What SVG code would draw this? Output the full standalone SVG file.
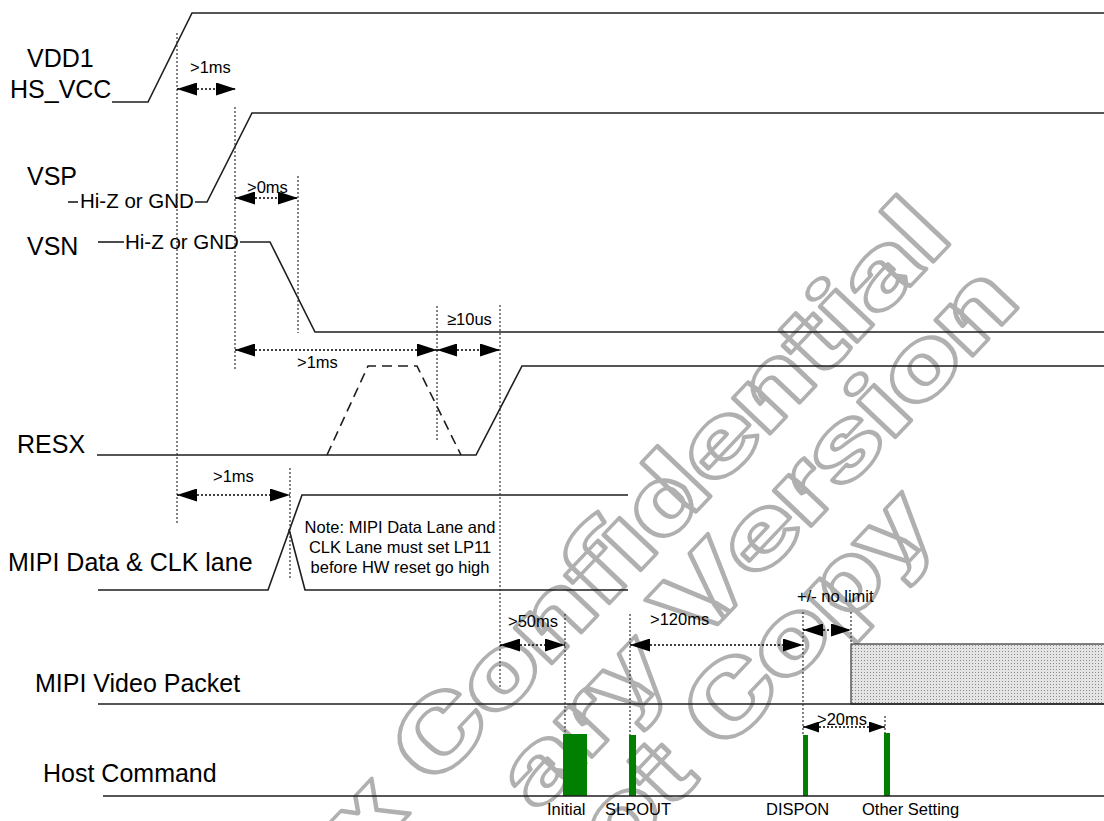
<svg xmlns="http://www.w3.org/2000/svg" width="1104" height="821" viewBox="0 0 1104 821">
<style>
.wave{fill:none;stroke:#1e1e1e;stroke-width:1.6;stroke-linejoin:miter}
.dash{fill:none;stroke:#1e1e1e;stroke-width:1.6;stroke-dasharray:10 6}
.guide{fill:none;stroke:#333;stroke-width:1.2;stroke-dasharray:2 2}
.dim{fill:none;stroke:#000;stroke-width:1.3;stroke-dasharray:2 2}
.lbl{font-family:"Liberation Sans",Arial,sans-serif;font-size:25px;fill:#000}
.hz{font-family:"Liberation Sans",Arial,sans-serif;font-size:20.5px;fill:#000}
.sm{font-family:"Liberation Sans",Arial,sans-serif;font-size:16.5px;fill:#000}
.cmd{fill:#007f00}
.wm{font-family:Roboto,"DejaVu Sans",sans-serif;font-weight:900;font-size:98px;fill:none;stroke:#b0b0b0;stroke-width:3.5;stroke-linejoin:round}
</style>
<defs>
<marker id="ah" viewBox="0 0 20 13" refX="20" refY="6.5" markerWidth="20" markerHeight="13" markerUnits="userSpaceOnUse" orient="auto-start-reverse"><path d="M0,0 L20,6.5 L0,13 z" fill="#000"/></marker>
<marker id="ahs" viewBox="0 0 16 11" refX="16" refY="5.5" markerWidth="16" markerHeight="11" markerUnits="userSpaceOnUse" orient="auto-start-reverse"><path d="M0,0 L16,5.5 L0,11 z" fill="#000"/></marker>
<pattern id="dots" width="3" height="3" patternUnits="userSpaceOnUse"><rect width="3" height="3" fill="#e4e4e4"/><rect width="1" height="1" fill="#8c8c8c"/></pattern>
</defs>
<rect width="1104" height="821" fill="#fff"/>

<g id="watermark">
<text class="wm" transform="translate(361,865) rotate(-46.5)" textLength="862" lengthAdjust="spacingAndGlyphs">x Confidential</text>
<text class="wm" transform="translate(538,814) rotate(-46.5)" textLength="703" lengthAdjust="spacingAndGlyphs">ary Version</text>
<text class="wm" transform="translate(616,868) rotate(-46.5)" textLength="469" lengthAdjust="spacingAndGlyphs">ot Copy</text>
</g>

<g id="vdd1">
<text class="lbl" x="27" y="67">VDD1</text>
<text class="lbl" x="10" y="98">HS_VCC</text>
<polyline class="wave" points="112,102 148,102 192,13 1104,13"/>
</g>

<g id="vsp">
<text class="lbl" x="27" y="185">VSP</text>
<line class="wave" x1="68" y1="202" x2="78" y2="202"/>
<text class="hz" x="80" y="208">Hi-Z or GND</text>
<polyline class="wave" points="195,202 207,202 252,113 1104,113"/>
</g>

<g id="vsn">
<text class="lbl" x="27" y="255">VSN</text>
<line class="wave" x1="98" y1="242" x2="124" y2="242"/>
<text class="hz" x="125" y="249">Hi-Z or GND</text>
<polyline class="wave" points="240,242 270,242 315,332 1104,332"/>
</g>

<g id="resx">
<text class="lbl" x="17" y="453">RESX</text>
<polyline class="wave" points="97,455 476,455 522,366 1104,366"/>
<polyline class="dash" points="327,455 368,366 417,366 461,455"/>
</g>

<g id="mipi-lane">
<text class="lbl" x="8" y="571">MIPI Data &amp; CLK lane</text>
<polyline class="wave" points="98,590 268,590 302,495 628,495"/>
<polyline class="wave" points="289,529 305,590 628,590"/>
<text class="sm" x="400" y="533" text-anchor="middle">Note: MIPI Data Lane and</text>
<text class="sm" x="400" y="553" text-anchor="middle">CLK Lane must set LP11</text>
<text class="sm" x="400" y="573" text-anchor="middle">before HW reset go high</text>
</g>

<g id="mipi-video">
<text class="lbl" x="35" y="692">MIPI Video Packet</text>
<rect x="851" y="644" width="260" height="60" fill="url(#dots)" stroke="#333" stroke-width="1.2"/>
<line class="wave" x1="98" y1="704" x2="1104" y2="704"/>
</g>

<g id="host-command">
<text class="lbl" x="43" y="782">Host Command</text>
<rect class="cmd" x="563" y="734" width="24" height="62"/>
<rect class="cmd" x="629" y="735" width="7" height="61"/>
<rect class="cmd" x="803" y="735" width="5" height="61"/>
<rect class="cmd" x="884" y="733" width="6" height="63"/>
<line class="wave" x1="103" y1="796" x2="1104" y2="796"/>
<text class="sm" x="547" y="815">Initial</text>
<text class="sm" x="605" y="815">SLPOUT</text>
<text class="sm" x="766" y="815">DISPON</text>
<text class="sm" x="862" y="815">Other Setting</text>
</g>

<g id="connectors">
<line class="guide" x1="177" y1="33" x2="177" y2="525"/>
<line class="guide" x1="235" y1="107" x2="235" y2="370"/>
<line class="guide" x1="298" y1="176" x2="298" y2="333"/>
<line class="guide" x1="437" y1="306" x2="437" y2="440"/>
<line class="guide" x1="500" y1="305" x2="500" y2="687"/>
<line class="guide" x1="290" y1="468" x2="290" y2="580"/>
<line class="guide" x1="565" y1="614" x2="565" y2="734"/>
<line class="guide" x1="630" y1="614" x2="630" y2="735"/>
<line class="guide" x1="803" y1="612" x2="803" y2="735"/>
<line class="guide" x1="851" y1="612" x2="851" y2="644"/>
<line class="guide" x1="885" y1="716" x2="885" y2="733"/>

<line class="dim" x1="177" y1="89" x2="236" y2="89" marker-start="url(#ah)" marker-end="url(#ah)"/>
<text class="sm" x="190" y="73">&gt;1ms</text>
<line class="dim" x1="235" y1="198" x2="298" y2="198" marker-start="url(#ah)" marker-end="url(#ah)"/>
<text class="sm" x="247" y="193">&gt;0ms</text>
<line class="dim" x1="235" y1="350" x2="437" y2="350" marker-start="url(#ah)" marker-end="url(#ah)"/>
<text class="sm" x="297" y="368">&gt;1ms</text>
<line class="dim" x1="437" y1="350" x2="500" y2="350" marker-start="url(#ah)" marker-end="url(#ah)"/>
<text class="sm" x="447" y="325">≥10us</text>
<line class="dim" x1="177" y1="495" x2="290" y2="495" marker-start="url(#ah)" marker-end="url(#ah)"/>
<text class="sm" x="213" y="482">&gt;1ms</text>
<line class="dim" x1="500" y1="645" x2="565" y2="645" marker-start="url(#ah)" marker-end="url(#ah)"/>
<text class="sm" x="508" y="627">&gt;50ms</text>
<line class="dim" x1="630" y1="645" x2="803" y2="645" marker-start="url(#ah)" marker-end="url(#ah)"/>
<text class="sm" x="650" y="625">&gt;120ms</text>
<line class="dim" x1="803" y1="630" x2="851" y2="630" marker-start="url(#ah)" marker-end="url(#ah)"/>
<text class="sm" x="797" y="602">+/- no limit</text>
<line class="dim" x1="803" y1="727" x2="885" y2="727" marker-start="url(#ahs)" marker-end="url(#ahs)"/>
<text class="sm" x="817" y="725">&gt;20ms</text>
</g>
</svg>
